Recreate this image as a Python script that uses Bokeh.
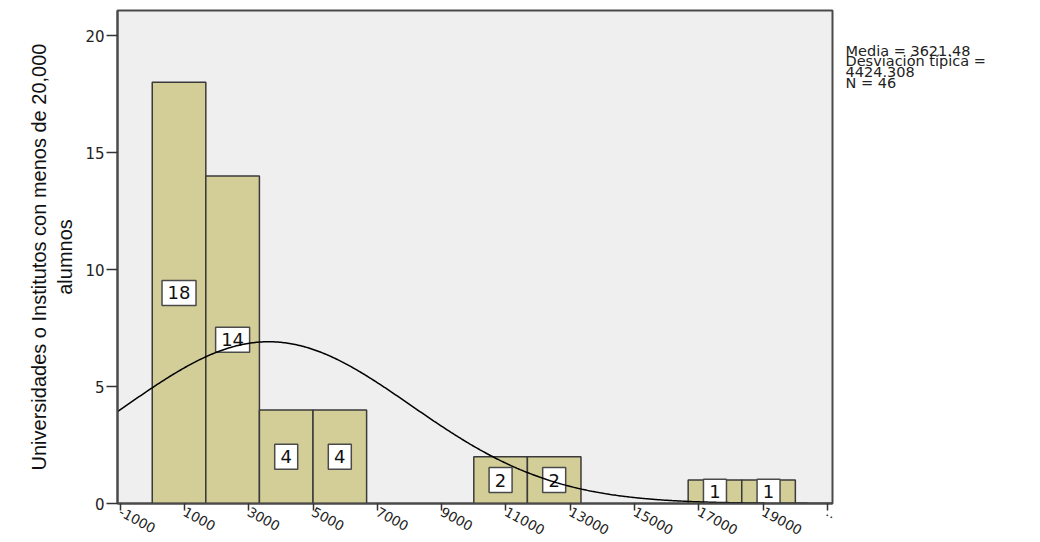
import numpy as np
from bokeh.plotting import figure
from bokeh.layouts import row
from bokeh.models import ColumnDataSource, FixedTicker, Range1d
from bokeh.core.properties import value
from bokeh.embed import file_html
from bokeh.resources import INLINE

# ---------------- data ----------------
bin_edges = [0, 1666.67, 3333.33, 5000, 6666.67, 8333.33, 10000,
             11666.67, 13333.33, 15000, 16666.67, 18333.33, 20000]
counts = [18, 14, 4, 4, 0, 0, 2, 2, 0, 0, 1, 1]
mean_val = 3621.48
std_val = 4424.308
n_total = 46
x_ticks = [-1000, 1000, 3000, 5000, 7000, 9000, 11000, 13000, 15000, 17000, 19000, 21000]
x_tick_labels = ["-1000", "1000", "3000", "5000", "7000", "9000", "11000",
                 "13000", "15000", "17000", "19000", ".."]
y_ticks = [0, 5, 10, 15, 20]
stats_lines = ["Media = 3621.48", "Desviación típica =", "4424.308", "N = 46"]
y_title = "Universidades o Institutos con menos de 20,000\nalumnos"

# ---------------- layout constants ----------------
MAIN_W, H = 844, 542
LEG_W = 188
BL, BR, BT, BB = 117, 12, 10, 38
X0, X1 = -1080, 21155
Y0, Y1 = 0, 21.07

# ---------- main histogram ----------
p = figure(width=MAIN_W, height=H, x_range=Range1d(X0, X1), y_range=Range1d(Y0, Y1),
           output_backend="svg", toolbar_location=None,
           min_border_left=BL, min_border_right=BR, min_border_top=BT, min_border_bottom=BB)
p.background_fill_color = "#efefef"
p.border_fill_color = "white"
p.outline_line_color = "#4a4a4a"
p.outline_line_width = 2
p.grid.visible = False

left = [bin_edges[i] for i in range(len(counts)) if counts[i] > 0]
right = [bin_edges[i + 1] for i in range(len(counts)) if counts[i] > 0]
tops = [c for c in counts if c > 0]
centers = [(a + b) / 2 for a, b in zip(left, right)]
p.quad(left=left, right=right, top=tops, bottom=0,
       fill_color="#d3ce97", line_color="#3a3a3a", line_width=1.5)

box_src = ColumnDataSource(dict(
    x=centers, y=[t / 2 for t in tops], t=[str(t) for t in tops],
    w=[12 + 11 * len(str(t)) for t in tops]))
p.rect(x="x", y="y", width="w", height=25, width_units="screen", height_units="screen",
       source=box_src, fill_color="white", line_color="#4a4a4a", line_width=1.5)
p.text(x="x", y="y", text="t", source=box_src, text_align="center", text_baseline="middle",
       text_font=value("DejaVu Sans"), text_font_size="18px", text_color="#111111")

bw = bin_edges[1] - bin_edges[0]
xs = np.linspace(X0, X1, 500)
ys = n_total * bw / (std_val * np.sqrt(2 * np.pi)) * np.exp(-0.5 * ((xs - mean_val) / std_val) ** 2)
p.line(xs, ys, line_color="black", line_width=1.5)

p.yaxis.ticker = FixedTicker(ticks=y_ticks)
p.yaxis.axis_line_color = "#4a4a4a"
p.yaxis.axis_line_width = 2
p.yaxis.major_tick_out = 11
p.yaxis.major_tick_in = 0
p.yaxis.major_tick_line_color = "#333333"
p.yaxis.major_tick_line_width = 1.5
p.yaxis.minor_tick_line_color = None
p.yaxis.major_label_text_font = "DejaVu Sans"
p.yaxis.major_label_text_font_size = "15px"
p.yaxis.major_label_text_color = "#222222"
p.yaxis.major_label_standoff = 2
p.yaxis.axis_label = y_title
p.yaxis.axis_label_text_font = "Liberation Sans"
p.yaxis.axis_label_text_font_size = "20px"
p.yaxis.axis_label_text_font_style = "normal"
p.yaxis.axis_label_text_color = "#111111"
p.yaxis.axis_label_standoff = 6

p.xaxis.ticker = FixedTicker(ticks=x_ticks)
p.xaxis.major_label_overrides = {t: s for t, s in zip(x_ticks, x_tick_labels)}
p.xaxis.major_label_orientation = -0.5
p.xaxis.axis_line_color = "#4a4a4a"
p.xaxis.axis_line_width = 2
p.xaxis.major_tick_out = 7
p.xaxis.major_tick_in = 0
p.xaxis.major_tick_line_color = "#333333"
p.xaxis.major_tick_line_width = 1.5
p.xaxis.minor_tick_line_color = None
p.xaxis.major_label_text_font = "DejaVu Sans"
p.xaxis.major_label_text_font_size = "13.5px"
p.xaxis.major_label_text_color = "#222222"
p.xaxis.major_label_standoff = 0

# ---------- statistics panel ----------
leg = figure(width=LEG_W, height=H, x_range=Range1d(0, LEG_W), y_range=Range1d(H, 0),
             output_backend="svg", toolbar_location=None,
             x_axis_location=None, y_axis_location=None, min_border=0)
leg.outline_line_color = None
leg.grid.visible = False
leg.text(x=[1] * len(stats_lines), y=[44 + 12 * i for i in range(len(stats_lines))],
         text=stats_lines, text_align="left", text_baseline="alphabetic",
         text_font=value("DejaVu Sans"), text_font_size="14.5px", text_color="#222222")

layout = row(p, leg)
open("out.html", "w").write(file_html(layout, INLINE))
